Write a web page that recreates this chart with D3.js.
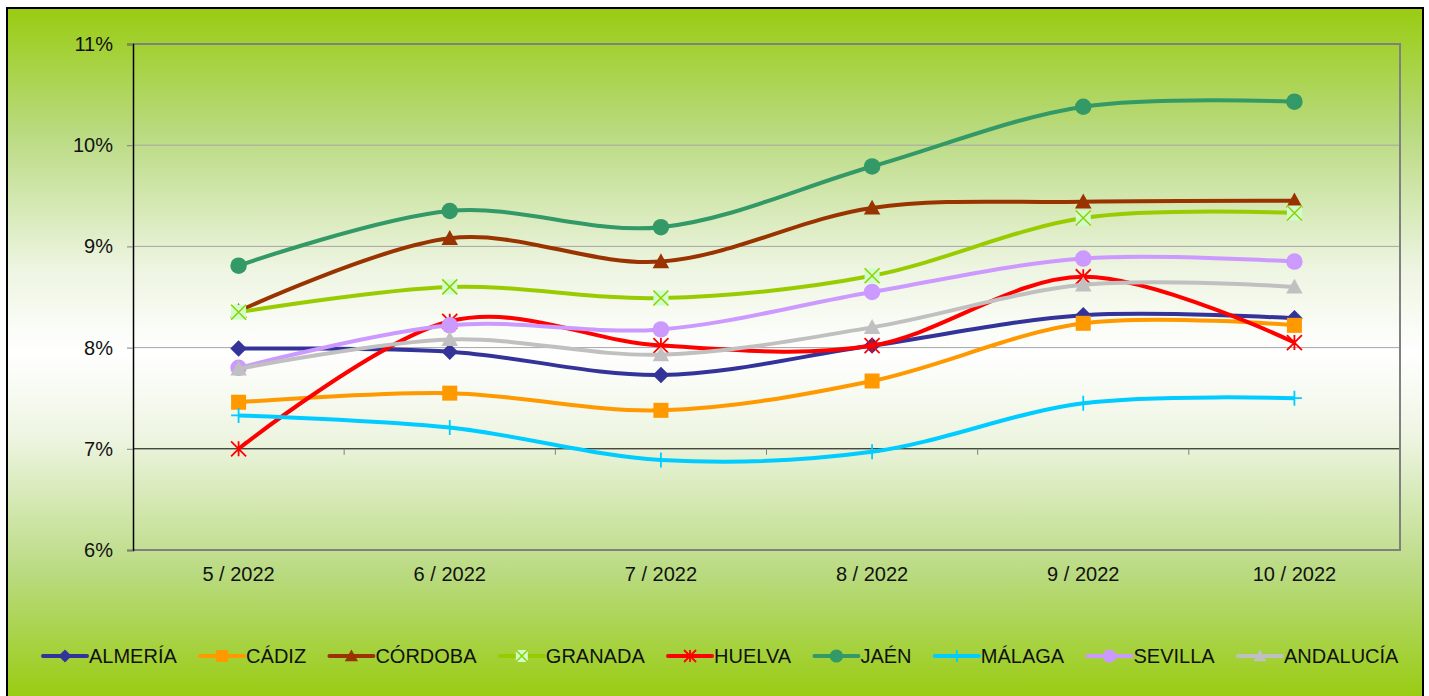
<!DOCTYPE html>
<html>
<head>
<meta charset="utf-8">
<title>Tasa por provincias</title>
<script src="https://d3js.org/d3.v7.min.js"></script>
<style>
  body { margin: 0; background: #fff; }
  text { font-family: "Liberation Sans", Arial, sans-serif; fill: #111; }
</style>
</head>
<body>
<script>

var months = ["5 / 2022", "6 / 2022", "7 / 2022", "8 / 2022", "9 / 2022", "10 / 2022"];
var yTicks = [6, 7, 8, 9, 10, 11];

var almeria   = [7.99, 7.96, 7.73, 8.02, 8.32, 8.29];
var cadiz     = [7.46, 7.55, 7.38, 7.67, 8.24, 8.22];
var cordoba   = [8.36, 9.08, 8.85, 9.38, 9.44, 9.45];
var granada   = [8.35, 8.60, 8.49, 8.71, 9.28, 9.33];
var huelva    = [7.00, 8.26, 8.02, 8.02, 8.70, 8.05];
var jaen      = [8.81, 9.35, 9.19, 9.79, 10.38, 10.43];
var malaga    = [7.33, 7.21, 6.89, 6.97, 7.45, 7.50];
var sevilla   = [7.80, 8.22, 8.18, 8.55, 8.88, 8.85];
var andalucia = [7.79, 8.08, 7.93, 8.20, 8.62, 8.60];

var series = [
  { name: "ALMERÍA",   values: almeria,   color: "#333399", marker: "diamond" },
  { name: "CÁDIZ",     values: cadiz,     color: "#ff9900", marker: "square" },
  { name: "CÓRDOBA",   values: cordoba,   color: "#993300", marker: "triangle" },
  { name: "GRANADA",   values: granada,   color: "#99cc00", marker: "xbox" },
  { name: "HUELVA",    values: huelva,    color: "#ff0000", marker: "star" },
  { name: "JAÉN",      values: jaen,      color: "#339966", marker: "circle" },
  { name: "MÁLAGA",    values: malaga,    color: "#00ccff", marker: "plus" },
  { name: "SEVILLA",   values: sevilla,   color: "#cc99ff", marker: "circle" },
  { name: "ANDALUCÍA", values: andalucia, color: "#c0c0c0", marker: "triangle" }
];

var W = 1429, H = 696;
var plot = { left: 133, top: 44, right: 1400, bottom: 550 };
var fontSize = "20px";

var svg = d3.select("body").append("svg")
  .attr("width", W)
  .attr("height", H);

var defs = svg.append("defs");
var grad = defs.append("linearGradient")
  .attr("id", "bg")
  .attr("x1", 0).attr("y1", 0).attr("x2", 0).attr("y2", 1);
[[0, "#99cc11"], [0.18, "#b9da80"], [0.38, "#eef5e2"], [0.5, "#ffffff"], [0.62, "#eef5e2"], [0.82, "#b9da80"], [1, "#99cc11"]]
  .forEach(function(s) {
    grad.append("stop").attr("offset", s[0]).attr("stop-color", s[1]);
  });

svg.append("rect")
  .attr("x", 7).attr("y", 8)
  .attr("width", 1416).attr("height", 690)
  .attr("fill", "url(#bg)")
  .attr("stroke", "#000")
  .attr("stroke-width", 2);

var x = d3.scaleBand()
  .domain(months)
  .range([plot.left, plot.right]);

var y = d3.scaleLinear()
  .domain([6, 11])
  .range([plot.bottom, plot.top]);

// grid lines
svg.append("g")
  .selectAll("line")
  .data(yTicks.filter(function(d) { return d > 6 && d < 11; }))
  .enter().append("line")
  .attr("x1", plot.left).attr("x2", plot.right)
  .attr("y1", function(d) { return y(d); })
  .attr("y2", function(d) { return y(d); })
  .attr("stroke", function(d) { return d === 7 ? "#000" : "#a6a6a6"; })
  .attr("stroke-width", 1);

// plot border
svg.append("path")
  .attr("d", "M" + plot.left + "," + y(11) + "H" + plot.right + "V" + plot.bottom + "H" + plot.left)
  .attr("fill", "none")
  .attr("stroke", "#808080")
  .attr("stroke-width", 2);

// y axis
var yAxis = d3.axisLeft(y)
  .tickValues(yTicks)
  .tickSize(6)
  .tickPadding(14)
  .tickFormat(function(d) { return d + "%"; });

var gy = svg.append("g")
  .attr("transform", "translate(" + plot.left + ",0)")
  .call(yAxis);
gy.select(".domain").attr("stroke", "#000").attr("stroke-width", 1.5);
gy.selectAll(".tick line").attr("stroke", "#808080");
gy.selectAll(".tick text")
  .style("font-size", fontSize)
  .attr("fill", "#111")
  .style("font-family", "Liberation Sans, Arial, sans-serif");

// category ticks on the 7% line
svg.append("g")
  .selectAll("line")
  .data(months.slice(1))
  .enter().append("line")
  .attr("x1", function(d) { return x(d); })
  .attr("x2", function(d) { return x(d); })
  .attr("y1", y(7)).attr("y2", y(7) + 6)
  .attr("stroke", "#808080");

// x labels
var xAxis = d3.axisBottom(x).tickSize(0).tickPadding(17);
var gx = svg.append("g")
  .attr("transform", "translate(0," + plot.bottom + ")")
  .call(xAxis);
gx.select(".domain").remove();
gx.selectAll(".tick text")
  .style("font-size", fontSize)
  .attr("fill", "#111")
  .style("font-family", "Liberation Sans, Arial, sans-serif");

var cx = function(i) { return x(months[i]) + x.bandwidth() / 2; };

var line = d3.line()
  .x(function(d, i) { return cx(i); })
  .y(function(d) { return y(d); })
  .curve(d3.curveCardinal.tension(0));

function drawMarker(g, type, color, s) {
  if (type === "circle") {
    g.append("circle").attr("r", s * 0.55).attr("fill", color);
  } else if (type === "square") {
    g.append("rect").attr("x", -s / 2).attr("y", -s / 2)
      .attr("width", s).attr("height", s).attr("fill", color);
  } else if (type === "diamond") {
    var h = s * 0.55;
    g.append("path").attr("d", "M0," + (-h) + "L" + h + ",0L0," + h + "L" + (-h) + ",0Z")
      .attr("fill", color);
  } else if (type === "triangle") {
    var t = s * 0.55;
    g.append("path").attr("d", "M0," + (-t) + "L" + t + "," + (t * 0.8) + "L" + (-t) + "," + (t * 0.8) + "Z")
      .attr("fill", color);
  } else if (type === "xbox") {
    var b = s / 2;
    g.append("rect").attr("x", -b).attr("y", -b).attr("width", s).attr("height", s)
      .attr("fill", "#ccffcc");
    g.append("path").attr("d", "M" + (-b) + "," + (-b) + "L" + b + "," + b + "M" + b + "," + (-b) + "L" + (-b) + "," + b)
      .attr("stroke", color).attr("stroke-width", 1.5);
  } else if (type === "star") {
    var r = s / 2;
    g.append("path")
      .attr("d", "M" + (-r) + "," + (-r) + "L" + r + "," + r + "M" + r + "," + (-r) + "L" + (-r) + "," + r + "M0," + (-r) + "V" + r)
      .attr("stroke", color).attr("stroke-width", 1.8).attr("fill", "none");
  } else if (type === "plus") {
    var p = s / 2;
    g.append("path").attr("d", "M" + (-p) + ",0H" + p + "M0," + (-p) + "V" + p)
      .attr("stroke", color).attr("stroke-width", 1.8);
  }
}

// lines
var gs = svg.append("g")
  .selectAll(".serie")
  .data(series)
  .enter().append("g")
  .attr("class", "serie");

gs.append("path")
  .attr("d", function(d) { return line(d.values); })
  .attr("fill", "none")
  .attr("stroke", function(d) { return d.color; })
  .attr("stroke-width", 4)
  .attr("stroke-linejoin", "round");

gs.each(function(d) {
  var g = d3.select(this);
  d.values.forEach(function(v, i) {
    var m = g.append("g").attr("transform", "translate(" + cx(i) + "," + y(v) + ")");
    drawMarker(m, d.marker, d.color, 15);
  });
});

// legend
var legend = svg.append("g").attr("transform", "translate(0,656)");
var lx = 43;
series.forEach(function(d) {
  var it = legend.append("g").attr("transform", "translate(" + lx + ",0)");
  it.append("line").attr("x1", 0).attr("x2", 44).attr("y1", 0).attr("y2", 0)
    .attr("stroke", d.color).attr("stroke-width", 4).attr("stroke-linecap", "round");
  drawMarker(it.append("g").attr("transform", "translate(22,0)"), d.marker, d.color, 12);
  var t = it.append("text")
    .attr("x", 46).attr("y", 7)
    .style("font-size", fontSize)
    .text(d.name);
  lx += 46 + t.node().getComputedTextLength() + 23.3;
});

</script>
</body>
</html>
